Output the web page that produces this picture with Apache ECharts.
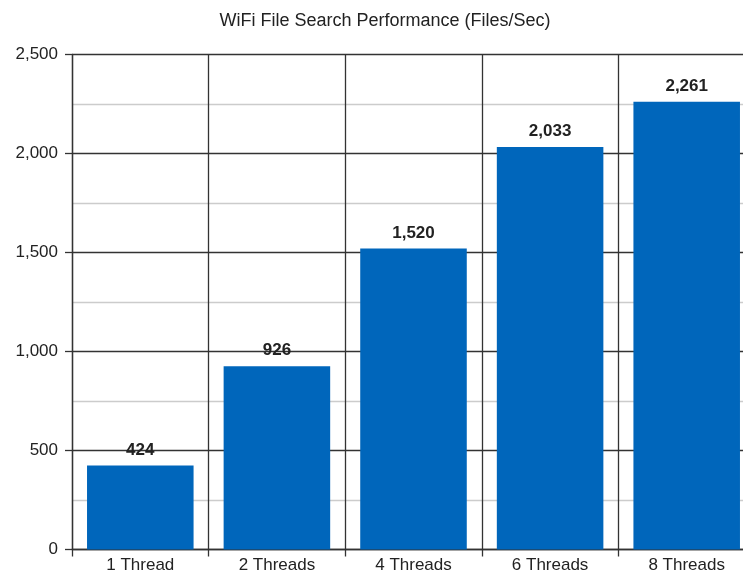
<!DOCTYPE html>
<html><head><meta charset="utf-8">
<script src="https://cdn.jsdelivr.net/npm/echarts@6/dist/echarts.min.js"></script>
<style>html,body{margin:0;padding:0;background:#fff}#c{width:743px;height:571px}</style>
</head><body><div id="c"></div>
<script>
var categories = ['1 Thread', '2 Threads', '4 Threads', '6 Threads', '8 Threads'];
var filesPerSec = [424, 926, 1520, 2033, 2261];
var yTicks = [0, 500, 1000, 1500, 2000, 2500];

var FONT = 'Liberation Sans, Arial, sans-serif';
var chart = echarts.init(document.getElementById('c'), null, {renderer: 'canvas'});
chart.setOption({
  animation: false,
  backgroundColor: '#fff',
  title: {
    text: 'WiFi File Search Performance (Files/Sec)',
    left: 380, top: 7, textAlign: 'center',
    textStyle: {fontFamily: FONT, fontSize: 18, fontWeight: 'normal', color: '#222'}
  },
  grid: {left: 72, width: 683, top: 54.5, height: 495, containLabel: false, outerBoundsMode: 'none'},
  xAxis: {
    type: 'category',
    data: categories,
    axisLine: {lineStyle: {color: '#333', width: 1.3}},
    axisTick: {show: true, length: 7, lineStyle: {color: '#333', width: 1.3}},
    axisLabel: {fontFamily: FONT, fontSize: 17, color: '#222', margin: 7},
    splitLine: {show: true, lineStyle: {color: '#333', width: 1.3}}
  },
  yAxis: {
    type: 'value',
    min: yTicks[0], max: yTicks[yTicks.length - 1], interval: 500,
    axisLine: {show: true, lineStyle: {color: '#333', width: 1.3}},
    axisTick: {show: true, length: 7, lineStyle: {color: '#333', width: 1.3}},
    axisLabel: {
      fontFamily: FONT, fontSize: 17, color: '#222', margin: 14,
      formatter: function (v) { return v.toLocaleString('en-US'); }
    },
    splitLine: {show: true, lineStyle: {color: '#333', width: 1.3}},
    minorTick: {show: false, splitNumber: 2},
    minorSplitLine: {show: true, lineStyle: {color: '#cccccc', width: 1.3}}
  },
  series: [{
    type: 'bar',
    data: filesPerSec,
    barCategoryGap: '22%',
    itemStyle: {color: '#0066BB'},
    label: {
      show: true, position: 'top', distance: 7,
      fontFamily: FONT, fontSize: 17, fontWeight: 'bold', color: '#222',
      formatter: function (p) { return p.value.toLocaleString('en-US'); }
    }
  }]
});
</script></body></html>
